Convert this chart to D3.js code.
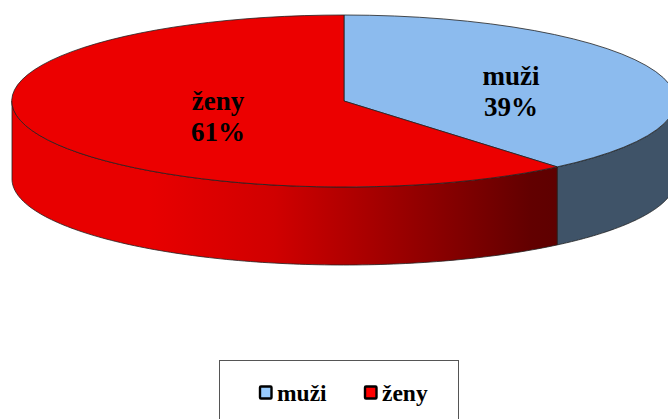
<!DOCTYPE html>
<html>
<head>
<meta charset="utf-8">
<script src="https://cdn.jsdelivr.net/npm/d3@7"></script>
<style>
  html, body { margin: 0; padding: 0; background: #fff; overflow: hidden; }
  text { font-family: "Liberation Serif", serif; font-weight: bold; fill: #000; }
</style>
</head>
<body>
<div id="chart"></div>
<script>
var categories = ["muži", "ženy"];
var values = [38.9, 61.1];
var topColors = ["#8cbbee", "#ec0000"];
var legendColors = ["#99ccff", "#ff0000"];

var width = 668, height = 419;
var cx = 344, cy = 101, rx = 332, ry = 86, depth = 78;

var svg = d3.select("#chart").append("svg")
  .attr("width", width)
  .attr("height", height);

// shading of the red wall, dark towards the cut
var defs = svg.append("defs");
var grad = defs.append("linearGradient")
  .attr("id", "redWall")
  .attr("gradientUnits", "userSpaceOnUse")
  .attr("x1", 12).attr("x2", 558)
  .attr("y1", 0).attr("y2", 0);
grad.append("stop").attr("offset", "0.25").attr("stop-color", "#e80000");
grad.append("stop").attr("offset", "0.48").attr("stop-color", "#d00000");
grad.append("stop").attr("offset", "0.62").attr("stop-color", "#b00000");
grad.append("stop").attr("offset", "0.95").attr("stop-color", "#620000");
grad.append("stop").attr("offset", "1").attr("stop-color", "#5e0000");

var pie = d3.pie().sort(null);
var slices = pie(values);

// flattened pie, angle 0 at 12 o'clock going clockwise
var x = a => cx + rx * Math.sin(a);
var y = a => cy - ry * Math.cos(a);

// outer wall from a0 to a1 (only the front half is visible)
function wall(a0, a1) {
  var from = Math.max(a0, Math.PI / 2), to = Math.min(a1, Math.PI * 1.5);
  var angles = d3.range(0, 121).map(i => from + (to - from) * i / 120);
  var line = d3.line().x(d => x(d[0])).y(d => y(d[0]) + d[1]);
  var pts = angles.map(a => [a, 0]).concat(angles.slice().reverse().map(a => [a, depth]));
  return line(pts) + "Z";
}

var wallFills = ["#3f5368", "url(#redWall)"];

svg.selectAll("path.wall")
  .data(slices)
  .enter()
  .append("path")
  .attr("class", "wall")
  .attr("d", d => wall(d.startAngle, d.endAngle))
  .attr("fill", (d, i) => wallFills[i])
  .attr("stroke", "#222")
  .attr("stroke-width", 0.8);

var arc = d3.arc().innerRadius(0).outerRadius(1);

svg.selectAll("path.top")
  .data(slices)
  .enter()
  .append("path")
  .attr("class", "top")
  .attr("transform", "translate(" + cx + "," + cy + ") scale(" + rx + "," + ry + ")")
  .attr("d", arc)
  .attr("fill", (d, i) => topColors[i])
  .attr("stroke", "#222")
  .attr("stroke-width", 0.8)
  .attr("vector-effect", "non-scaling-stroke");

// data labels
var labelPos = [[511, 85], [218, 110]];
var pct = d3.format(".0f");
slices.forEach(function (d, i) {
  var t = svg.append("text")
    .attr("text-anchor", "middle")
    .attr("font-size", 27);
  t.append("tspan")
    .attr("x", labelPos[i][0]).attr("y", labelPos[i][1])
    .text(categories[i]);
  t.append("tspan")
    .attr("x", labelPos[i][0]).attr("y", labelPos[i][1] + 31)
    .text(pct(values[i]) + "%");
});

// legend box runs off the bottom of the picture
svg.append("rect")
  .attr("x", 219.5).attr("y", 360.5)
  .attr("width", 239).attr("height", 80)
  .attr("fill", "#fff")
  .attr("stroke", "#555")
  .attr("stroke-width", 1);

var legendX = [259, 364];
categories.forEach(function (c, i) {
  svg.append("rect")
    .attr("x", legendX[i] + 1).attr("y", 386.5)
    .attr("width", 11.5).attr("height", 12)
    .attr("rx", 1)
    .attr("fill", legendColors[i])
    .attr("stroke", "#000")
    .attr("stroke-width", 2.4);
  svg.append("text")
    .attr("x", legendX[i] + 18).attr("y", 401)
    .attr("font-size", 23.5)
    .text(c);
});
</script>
</body>
</html>
